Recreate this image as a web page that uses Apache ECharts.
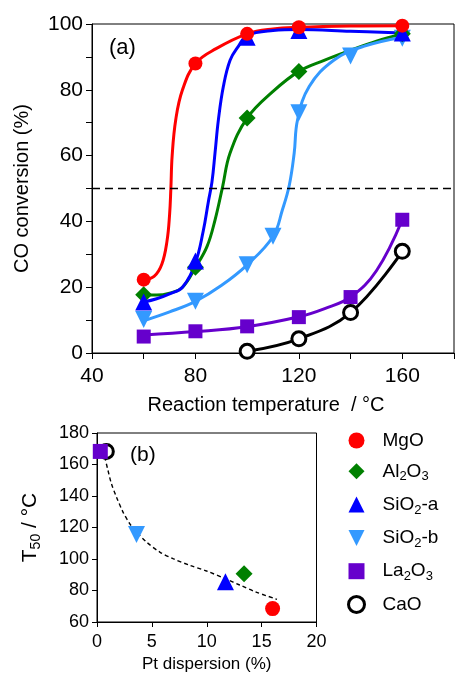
<!DOCTYPE html>
<html>
<head>
<meta charset="utf-8">
<script src="https://cdn.jsdelivr.net/npm/echarts@6/dist/echarts.min.js"></script>
<style>
html,body{margin:0;padding:0;background:#fff;}
#c{width:457px;height:674px;}
</style>
</head>
<body>
<div id="c"></div>
<script>
// ---------- (a) measured points ----------
const mgoT = [60, 80, 100, 120, 160];
const mgoConv = [22.3, 88, 97, 99, 99.5];
const al2o3T = [60, 80, 100, 120, 160];
const al2o3Conv = [17.7, 26.1, 71.4, 85.6, 97];
const sio2aT = [60, 80, 100, 120, 160];
const sio2aConv = [15.5, 28, 96, 98, 97.3];
const sio2bT = [60, 80, 100, 110, 120, 140, 160];
const sio2bConv = [10.2, 15.7, 26.8, 35.5, 73, 90.3, 95.7];
const la2o3T = [60, 80, 100, 120, 140, 160];
const la2o3Conv = [5, 6.6, 8.1, 10.9, 17, 40.5];
const caoT = [100, 120, 140, 160];
const caoConv = [0.5, 4.3, 12.3, 30.9];

// ---------- (a) fitted curves ----------
const mgoFitT = [60, 64, 67, 69, 70, 70.5, 71, 72.4, 75, 80, 88, 100, 110, 120, 140, 160];
const mgoFitConv = [22.3, 23.3, 27, 34, 42, 50, 60, 71, 80, 88, 92.5, 97, 98.5, 99, 99.4, 99.5];
const al2o3FitT = [60, 65, 70, 75, 80, 84.5, 87.6, 90.5, 93.4, 100, 110, 120, 130, 140, 150, 160];
const al2o3FitConv = [17.7, 17.6, 18.2, 20, 26, 32.4, 40.5, 50.5, 60.8, 71.4, 79.5, 85.6, 89, 92, 94.8, 97];
const sio2aFitT = [60, 65, 70, 75, 80, 83, 85, 86.4, 87.6, 88.9, 90.8, 93.4, 96.6, 100, 110, 120, 140, 160];
const sio2aFitConv = [15.5, 16.5, 18, 20, 27.5, 37, 46, 52, 61, 71, 81, 89, 93.2, 96.5, 98, 98.3, 97.8, 97.3];
const sio2bFitT = [60, 70, 80, 90, 100, 110, 113.7, 116.3, 118.2, 119.5, 124, 133.5, 145, 160];
const sio2bFitConv = [9.8, 12.5, 15.7, 20.5, 26.8, 35.4, 43.7, 51, 60.8, 70.9, 81, 89, 93.2, 96];
const la2o3FitT = [60, 80, 100, 120, 130, 140, 150, 160];
const la2o3FitConv = [5.5, 6.5, 8, 11, 13.5, 17, 25, 40.5];
const caoFitT = [100, 120, 140, 160];
const caoFitConv = [0.5, 4.3, 12.3, 30.9];

// ---------- (b) T50 vs Pt dispersion ----------
const dispMgO = [16.0], t50MgO = [68.5];
const dispAl2O3 = [13.4], t50Al2O3 = [90.7];
const dispSiO2a = [11.7], t50SiO2a = [85.5];
const dispSiO2b = [3.6], t50SiO2b = [115.5];
const dispLa2O3 = [0.3], t50La2O3 = [168.3];
const dispCaO = [0.85], t50CaO = [168.3];
const trendDisp = [0.7, 1.0, 1.31, 1.77, 2.37, 2.98, 3.59, 4.5, 5.72, 6.93, 8.45, 9.97, 11.8, 13.0, 14.5, 16.4];
const trendT50 = [164.8, 156.3, 147.9, 139.4, 129.8, 122.5, 117.1, 110.8, 104.4, 100.2, 96, 92.4, 87.2, 83.5, 79.0, 74.4];

const xTicksA = [40, 80, 120, 160];
const yTicksA = [0, 20, 40, 60, 80, 100];

const FONT = 'Liberation Sans, Arial, sans-serif';
const pair = (xs, ys) => xs.map((x, i) => [x, ys[i]]);

const C = {
  MgO: '#FF0000', Al2O3: '#008000', SiO2a: '#0000FF', SiO2b: '#3399FF', La2O3: '#6600CC', CaO: '#000000'
};

const chart = echarts.init(document.getElementById('c'), null, {renderer: 'canvas'});

function fitLine(name, xs, ys, color) {
  return {
    name: name, type: 'line', xAxisIndex: 0, yAxisIndex: 0,
    data: pair(xs, ys), smooth: 0.4, showSymbol: false, symbol: 'none',
    lineStyle: {color: color, width: 3}, itemStyle: {color: color},
    silent: true, z: 2
  };
}
function pts(name, xs, ys, symbol, size, color, extra, ax) {
  const s = {
    name: name, type: 'scatter', xAxisIndex: ax, yAxisIndex: ax,
    data: pair(xs, ys), symbol: symbol, symbolSize: size,
    itemStyle: {color: color, opacity: 1}, z: 3, silent: true
  };
  return Object.assign(s, extra || {});
}

const hollow = {itemStyle: {color: '#fff', borderColor: '#000', borderWidth: 3, opacity: 1}};
const down = {symbolRotate: 180};

const series = [
  fitLine('fMgO', mgoFitT, mgoFitConv, C.MgO),
  fitLine('fAl', al2o3FitT, al2o3FitConv, C.Al2O3),
  fitLine('fSa', sio2aFitT, sio2aFitConv, C.SiO2a),
  fitLine('fSb', sio2bFitT, sio2bFitConv, C.SiO2b),
  fitLine('fLa', la2o3FitT, la2o3FitConv, C.La2O3),
  fitLine('fCa', caoFitT, caoFitConv, C.CaO),
  pts('pLa', la2o3T, la2o3Conv, 'rect', 14, C.La2O3, null, 0),
  pts('pCa', caoT, caoConv, 'circle', 14, C.CaO, hollow, 0),
  pts('pSb', sio2bT, sio2bConv, 'triangle', 17, C.SiO2b, down, 0),
  pts('pAl', al2o3T, al2o3Conv, 'diamond', 17, C.Al2O3, null, 0),
  pts('pSa', sio2aT, sio2aConv, 'triangle', 17, C.SiO2a, null, 0),
  pts('pMg', mgoT, mgoConv, 'circle', 14, C.MgO, null, 0),
  {
    name: 'ref50', type: 'line', xAxisIndex: 0, yAxisIndex: 0, data: [], silent: true,
    markLine: {
      silent: true, symbol: ['none', 'none'], label: {show: false},
      lineStyle: {color: '#000', type: [8, 5], width: 1.3},
      data: [{yAxis: 50}]
    }
  },
  // (b)
  {
    name: 'trend', type: 'line', xAxisIndex: 1, yAxisIndex: 1,
    data: pair(trendDisp, trendT50), smooth: 0.3, symbol: 'none', silent: true,
    lineStyle: {color: '#000', width: 1.4, type: [4, 3]}, z: 2
  },
  pts('MgO', dispMgO, t50MgO, 'circle', 15, C.MgO, null, 1),
  pts('Al2O3', dispAl2O3, t50Al2O3, 'diamond', 17, C.Al2O3, null, 1),
  pts('SiO2-a', dispSiO2a, t50SiO2a, 'triangle', 17, C.SiO2a, null, 1),
  pts('SiO2-b', dispSiO2b, t50SiO2b, 'triangle', 17, C.SiO2b, down, 1),
  pts('CaO', dispCaO, t50CaO, 'circle', 14, C.CaO, hollow, 1),
  pts('La2O3', dispLa2O3, t50La2O3, 'rect', 15, C.La2O3, {z: 4}, 1)
];

const legendRich = {
  n: {fontSize: 19, fontFamily: FONT, color: '#000', lineHeight: 24, padding: [0, 0, 0, 13]},
  m: {fontSize: 19, fontFamily: FONT, color: '#000', lineHeight: 24},
  s: {fontSize: 13, fontFamily: FONT, color: '#000', lineHeight: 24, verticalAlign: 'bottom'}
};
const legendLabels = {
  'MgO': '{n|MgO}',
  'Al2O3': '{n|Al}{s|2}{m|O}{s|3}',
  'SiO2-a': '{n|SiO}{s|2}{m|-a}',
  'SiO2-b': '{n|SiO}{s|2}{m|-b}',
  'La2O3': '{n|La}{s|2}{m|O}{s|3}',
  'CaO': '{n|CaO}'
};

const option = {
  animation: false,
  backgroundColor: '#fff',
  grid: [
    {left: 92, top: 24, width: 367, height: 329, show: true, borderColor: '#000', borderWidth: 1, backgroundColor: 'transparent'},
    {left: 97, top: 433, width: 219.5, height: 189, show: true, borderColor: '#000', borderWidth: 1, backgroundColor: 'transparent'}
  ],
  xAxis: [
    {
      gridIndex: 0, type: 'value', min: 40, max: 180, interval: 20,
      name: 'Reaction temperature  / °C', nameLocation: 'middle', nameGap: 42,
      nameTextStyle: {fontSize: 20, fontFamily: FONT, color: '#000', padding: [0, 14, 0, 0]},
      axisLine: {show: true, lineStyle: {color: '#000', width: 1}},
      axisTick: {show: true, inside: false, length: 6, lineStyle: {color: '#000'}},
      axisLabel: {fontSize: 21, fontFamily: FONT, color: '#000', margin: 13,
        formatter: v => (xTicksA.indexOf(v) >= 0 ? String(v) : '')},
      splitLine: {show: false}
    },
    {
      gridIndex: 1, type: 'value', min: 0, max: 20, interval: 5,
      name: 'Pt dispersion (%)', nameLocation: 'middle', nameGap: 34,
      nameTextStyle: {fontSize: 17, fontFamily: FONT, color: '#000'},
      axisLine: {show: true, lineStyle: {color: '#000', width: 1}},
      axisTick: {show: true, inside: false, length: 5, lineStyle: {color: '#000'}},
      axisLabel: {fontSize: 18, fontFamily: FONT, color: '#000', margin: 11},
      splitLine: {show: false}
    }
  ],
  yAxis: [
    {
      gridIndex: 0, type: 'value', min: 0, max: 100, interval: 10,
      name: 'CO conversion (%)', nameLocation: 'middle', nameGap: 60, nameRotate: 90,
      nameTextStyle: {fontSize: 20, fontFamily: FONT, color: '#000'},
      axisLine: {show: true, lineStyle: {color: '#000', width: 1}},
      axisTick: {show: true, inside: false, length: 6, lineStyle: {color: '#000'}},
      axisLabel: {fontSize: 21, fontFamily: FONT, color: '#000', margin: 9,
        formatter: v => (yTicksA.indexOf(v) >= 0 ? String(v) : '')},
      splitLine: {show: false}
    },
    {
      gridIndex: 1, type: 'value', min: 60, max: 180, interval: 20,
      name: '{m|T}{s|50}{m| / °C}', nameLocation: 'middle', nameGap: 54, nameRotate: 90,
      nameTextStyle: {
        fontSize: 20, fontFamily: FONT, color: '#000',
        rich: {
          m: {fontSize: 21, fontFamily: FONT, color: '#000', lineHeight: 26},
          s: {fontSize: 14, fontFamily: FONT, color: '#000', lineHeight: 26, verticalAlign: 'bottom'}
        }
      },
      axisLine: {show: true, lineStyle: {color: '#000', width: 1}},
      axisTick: {show: true, inside: false, length: 5, lineStyle: {color: '#000'}},
      axisLabel: {fontSize: 18, fontFamily: FONT, color: '#000', margin: 8},
      splitLine: {show: false}
    }
  ],
  legend: {
    show: true, orient: 'vertical', left: 347, top: 431, padding: 0,
    itemWidth: 16, itemHeight: 16, itemGap: 11.8,
    data: [
      {name: 'MgO', icon: 'circle'},
      {name: 'Al2O3', icon: 'diamond'},
      {name: 'SiO2-a', icon: 'triangle'},
      {name: 'SiO2-b', icon: 'path://M0,0 L16,0 L8,16 Z'},
      {name: 'La2O3', icon: 'rect'},
      {name: 'CaO', icon: 'circle', itemStyle: {color: '#fff', borderColor: '#000', borderWidth: 3}}
    ],
    selectedMode: false,
    formatter: name => legendLabels[name],
    textStyle: {fontSize: 19, fontFamily: FONT, color: '#000', rich: legendRich}
  },
  graphic: [
    {type: 'text', left: 109, top: 37, silent: true,
      style: {text: '(a)', fontSize: 22, fontFamily: FONT, fill: '#000'}},
    {type: 'text', left: 130, top: 445, silent: true,
      style: {text: '(b)', fontSize: 21, fontFamily: FONT, fill: '#000'}}
  ],
  series: series
};
chart.setOption(option);
</script>
</body>
</html>
